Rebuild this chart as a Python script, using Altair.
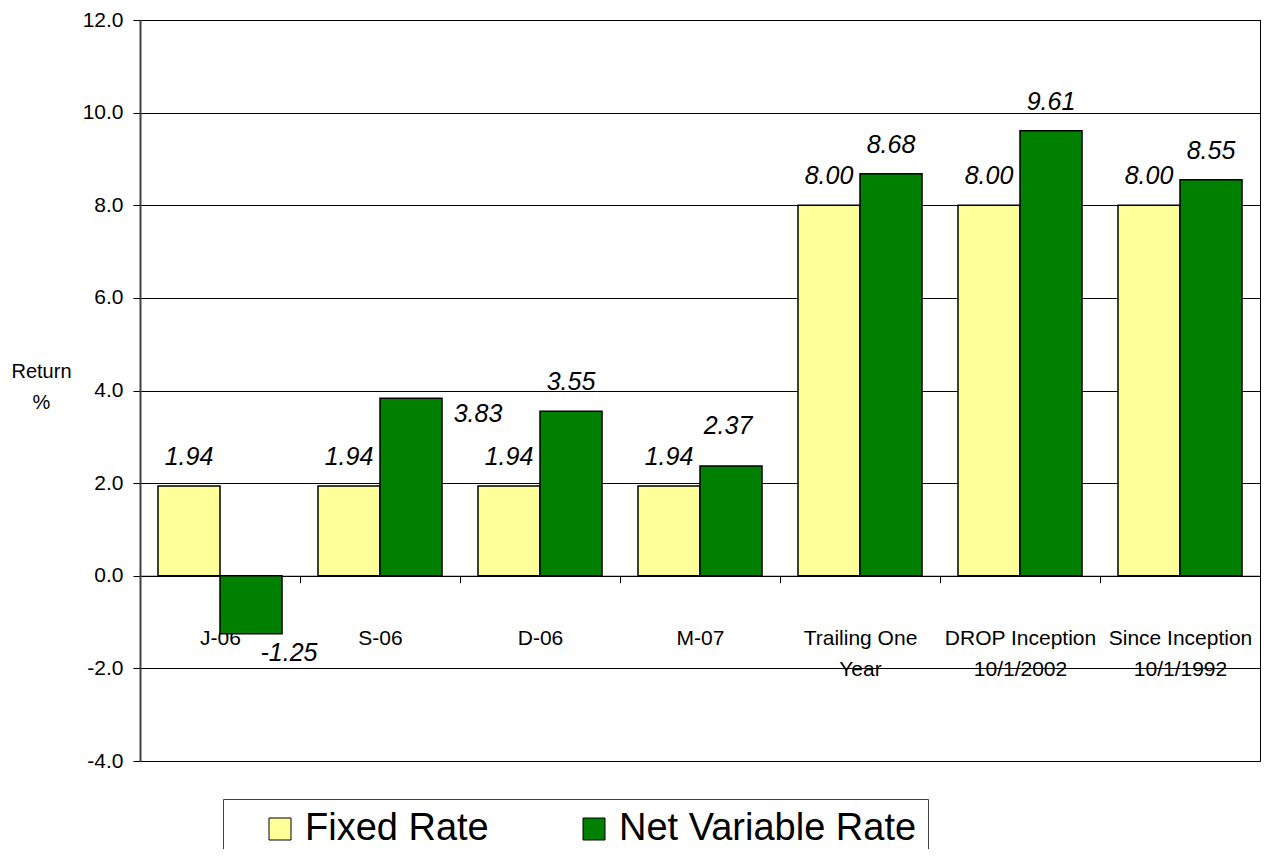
import altair as alt
import pandas as pd

# ---------------- data ----------------
categories = [
    "J-06",
    "S-06",
    "D-06",
    "M-07",
    "Trailing One Year",
    "DROP Inception 10/1/2002",
    "Since Inception 10/1/1992",
]
fixed_rate = [1.94, 1.94, 1.94, 1.94, 8.00, 8.00, 8.00]
net_variable_rate = [-1.25, 3.83, 3.55, 2.37, 8.68, 9.61, 8.55]
series_names = ["Fixed Rate", "Net Variable Rate"]
y_ticks = [-4, -2, 0, 2, 4, 6, 8, 10, 12]

rows = []
for c, f, v in zip(categories, fixed_rate, net_variable_rate):
    rows.append({"category": c, "series": series_names[0], "value": f})
    rows.append({"category": c, "series": series_names[1], "value": v})
df = pd.DataFrame(rows)

# ---------------- style ----------------
series_colors = ["#FFFF99", "#008000"]
FONT = "Liberation Sans"
W, H = 1120, 741
YMIN, YMAX = -4, 12
zero_offset = -(H * (0 - YMIN) / (YMAX - YMIN))  # move x axis up to the zero line

# label placement (Excel-like nudges)
default_offset = (0, -29)
label_offsets = {
    ("J-06", "Net Variable Rate"): (38, 19),
    ("S-06", "Net Variable Rate"): (67, 16),
    ("M-07", "Net Variable Rate"): (-3, -40),
}

x_enc = alt.X(
    "category:N",
    sort=categories,
    scale=alt.Scale(paddingInner=0, paddingOuter=0),
    axis=alt.Axis(
        title=None,
        orient="bottom",
        offset=zero_offset,
        labelAngle=0,
        labelFont=FONT,
        labelFontSize=21,
        labelColor="black",
        labelPadding=45,
        labelLineHeight=31,
        labelBaseline="top",
        labelLimit=0,
        tickBand="extent",
        tickSize=7,
        tickColor="black",
        domainColor="black",
        domainWidth=1,
        grid=False,
        labelExpr="length(datum.label) > 8 ? [substring(datum.label, 0, lastindexof(datum.label, ' ')), "
                  "substring(datum.label, lastindexof(datum.label, ' ') + 1)] : datum.label",
    ),
)

y_enc = alt.Y(
    "value:Q",
    scale=alt.Scale(domain=[YMIN, YMAX], nice=False),
    axis=alt.Axis(
        values=y_ticks,
        labelExpr="replace(format(datum.value, '.1f'), '\u2212', '-')",
        title=["Return", "%"],
        titleAngle=0,
        titleAlign="center",
        titleBaseline="top",
        titleX=-99,
        titleY=341,
        titleFont=FONT,
        titleFontSize=20,
        titleFontWeight="normal",
        titleLineHeight=31,
        titleColor="black",
        labelFont=FONT,
        labelFontSize=21,
        labelColor="black",
        labelPadding=10,
        tickSize=7,
        tickColor="black",
        domainColor="#404040",
        domainWidth=2,
        grid=True,
        gridColor="black",
        gridWidth=1,
        gridOpacity=1,
    ),
)

xoff_enc = alt.XOffset(
    "series:N",
    sort=series_names,
    scale=alt.Scale(paddingInner=0, paddingOuter=0.29),
)

base = alt.Chart(df)

bars = base.mark_bar(stroke="black", strokeWidth=1.5, opacity=1).encode(
    x=x_enc,
    xOffset=xoff_enc,
    y=y_enc,
    color=alt.Color(
        "series:N",
        sort=series_names,
        scale=alt.Scale(domain=series_names, range=series_colors),
        legend=alt.Legend(
            title=" ",
            titleOrient="left",
            titleFontSize=8,
            titlePadding=27,
            orient="none",
            legendX=83,
            legendY=779,
            direction="horizontal",
            padding=11,
            strokeColor="#404040",
            fillColor="white",
            symbolType="square",
            symbolSize=484,
            symbolStrokeColor="black",
            symbolStrokeWidth=1,
            symbolOpacity=1,
            labelFont=FONT,
            labelFontSize=38,
            labelColor="black",
            labelOffset=6,
            labelLimit=0,
            columnPadding=86,
        ),
    ),
)


def cond(c, s):
    return f"(datum.category == '{c}' && datum.series == '{s}')"


exception_expr = " || ".join(cond(c, s) for (c, s) in label_offsets)

text_common = dict(
    font=FONT, fontSize=25, fontStyle="italic", color="black",
    align="center", baseline="middle",
)


def text_layer(filter_expr, dx, dy):
    return (
        base.transform_filter(filter_expr)
        .transform_calculate(label="replace(format(datum.value, '.2f'), '\u2212', '-')")
        .mark_text(dx=dx, dy=dy, **text_common)
        .encode(x=x_enc, xOffset=xoff_enc, y=y_enc, text="label:N")
    )


texts = [text_layer(f"!({exception_expr})", *default_offset)]
for (c, s), (dx, dy) in label_offsets.items():
    texts.append(text_layer(cond(c, s), dx, dy))

chart = (
    alt.layer(bars, *texts)
    .properties(
        width=W,
        height=H,
        autosize=alt.AutoSizeParams(type="none"),
        padding={"left": 132, "top": 12, "right": 2, "bottom": 88},
        background="white",
    )
    .configure_view(stroke="black", strokeWidth=1)
)

chart.save("out.html", embed_options={"renderer": "svg", "actions": False})
